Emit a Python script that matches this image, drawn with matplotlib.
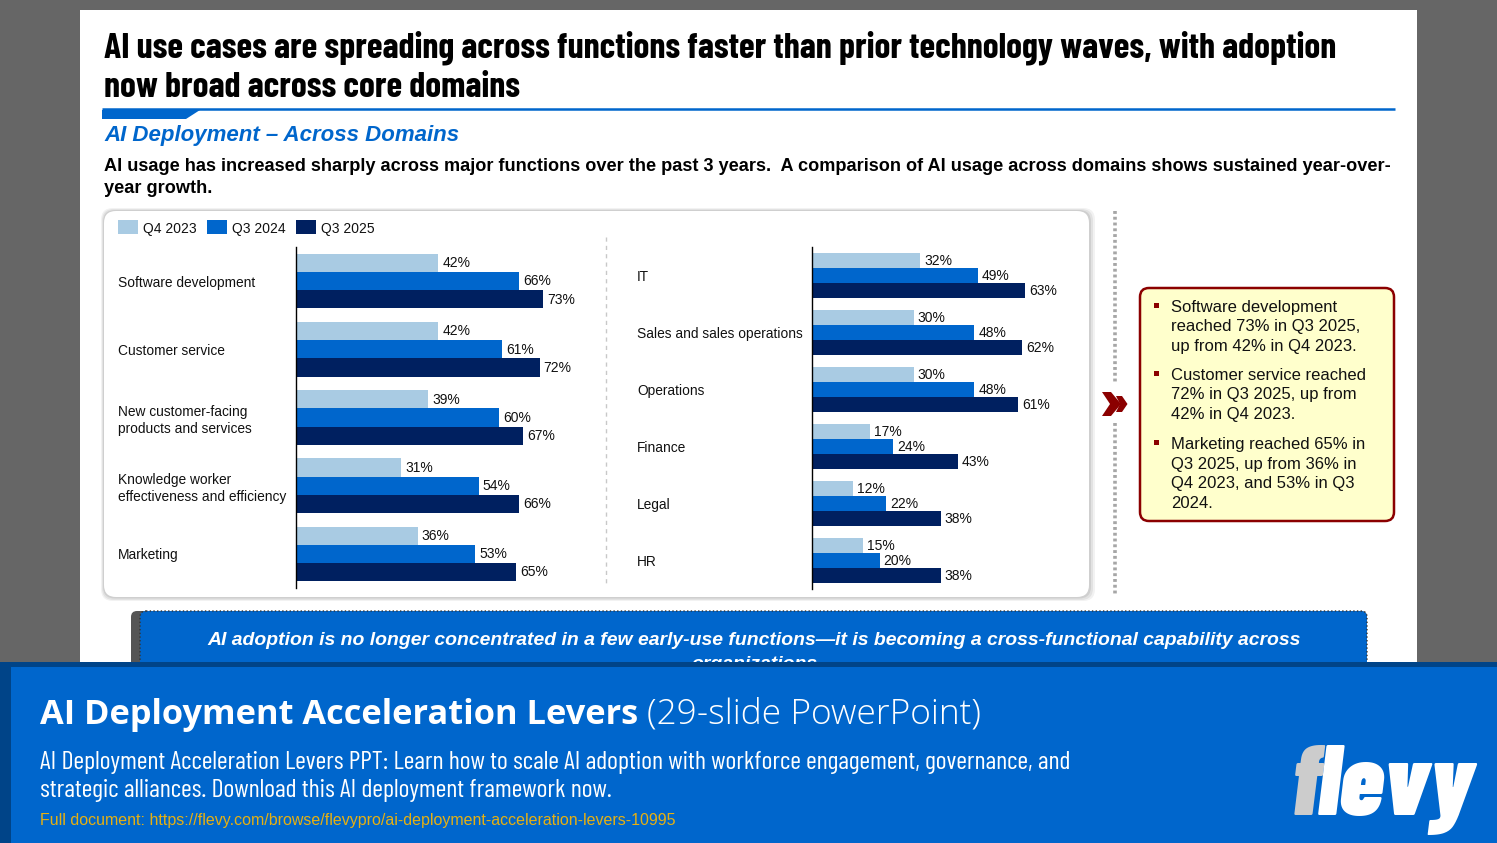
import matplotlib
matplotlib.use('Agg')
import matplotlib.pyplot as plt
from matplotlib.patches import FancyBboxPatch, Rectangle, Polygon

W, H = 1497, 843

SANS = ['Liberation Sans', 'DejaVu Sans']
NARROW = ['Barlow Condensed', 'Liberation Sans', 'DejaVu Sans']
plt.rcParams['font.family'] = SANS

# chart data
SERIES = ['Q4 2023', 'Q3 2024', 'Q3 2025']
COLORS = ['#A9CBE3', '#0066CC', '#002060']

LEFT_CATS = ['Software development', 'Customer service',
             'New customer-facing\nproducts and services',
             'Knowledge worker\neffectiveness and efficiency', 'Marketing']
LEFT_Q4_23 = [42, 42, 39, 31, 36]
LEFT_Q3_24 = [66, 61, 60, 54, 53]
LEFT_Q3_25 = [73, 72, 67, 66, 65]

RIGHT_CATS = ['IT', 'Sales and sales operations', 'Operations', 'Finance', 'Legal', 'HR']
RIGHT_Q4_23 = [32, 30, 30, 17, 12, 15]
RIGHT_Q3_24 = [49, 48, 48, 24, 22, 20]
RIGHT_Q3_25 = [63, 62, 61, 43, 38, 38]

TITLE = ('AI use cases are spreading across functions faster than prior technology waves, with adoption\n'
         'now broad across core domains')
SUBTITLE = 'AI Deployment \u2013 Across Domains'
INTRO = ('AI usage has increased sharply across major functions over the past 3 years.  '
         'A comparison of AI usage across domains shows sustained year-over-\nyear growth.')
CALLOUTS = ['Software development\nreached 73% in Q3 2025,\nup from 42% in Q4 2023.',
            'Customer service reached\n72% in Q3 2025, up from\n42% in Q4 2023.',
            'Marketing reached 65% in\nQ3 2025, up from 36% in\nQ4 2023, and 53% in Q3\n2024.']
BANNER = ('AI adoption is no longer concentrated in a few early-use functions\u2014it is becoming '
          'a cross-functional capability across\norganizations')

fig = plt.figure(figsize=(W / 100, H / 100), dpi=100, facecolor='#666666')

# page layer in pixel coordinates
bg = fig.add_axes([0, 0, 1, 1])
bg.set_xlim(0, W)
bg.set_ylim(H, 0)
bg.axis('off')

bg.add_patch(Rectangle((80, 10), 1337, 660, fc='white', ec='none'))
bg.text(104, 67, TITLE, fontfamily=NARROW, fontweight='bold', fontsize=25.8, linespacing=1.29,
        va='center', color='black')
bg.plot([102, 1395], [109, 109], color='#0066CC', lw=1.8, solid_capstyle='butt')
bg.add_patch(Polygon([(102, 110), (200, 110), (186, 119), (102, 119)], fc='#0066CC', ec='none'))
bg.text(104, 135.5, SUBTITLE, fontweight='bold', fontstyle='italic', fontsize=16, color='#0066CC', va='center')
bg.text(104, 177.5, INTRO, fontweight='bold', fontsize=13.02, linespacing=1.39, va='center', color='black')

# chart card with soft edge
for x0, y0, x1, y1, col in [(101, 208, 1095, 601, '#F2F2F2'), (102, 209, 1093, 600, '#E2E2E2'),
                            (103, 210, 1091, 598.5, '#CFCFCF'), (104, 211, 1089, 597, 'white')]:
    bg.add_patch(FancyBboxPatch((x0, y0), x1 - x0, y1 - y0, boxstyle='round,pad=0,rounding_size=12',
                                fc=col, ec='none'))
bg.plot([606, 606], [237, 583], color='#C8C8C8', lw=1, ls=(0, (3, 3)))

for i, (name, col) in enumerate(zip(SERIES, COLORS)):
    x0 = 118 + i * 89
    bg.add_patch(Rectangle((x0, 220), 20, 14, fc=col, ec='none'))
    bg.text(x0 + 25, 228, name, fontsize=10, va='center_baseline', color='#111111')


def draw_bars(rect, cats, rows, bar_h):
    left, top, width, height = rect
    ax = fig.add_axes([left / W, 1 - (top + height) / H, width / W, height / H])
    ax.patch.set_alpha(0)
    ax.set_xlim(0, width / 3.384)
    ax.set_ylim(len(cats) - 0.5, -0.5)
    for i, (vals, col) in enumerate(zip(rows, COLORS)):
        pos = [k + (i - 1) * bar_h for k in range(len(cats))]
        ax.barh(pos, vals, height=bar_h, color=col)
        for p, v in zip(pos, vals):
            ax.annotate(f'{v}%', (v, p), xytext=(2.9, 0.8), textcoords='offset points',
                        va='center_baseline', ha='left', fontsize=10, color='#111111')
    ax.set_yticks(range(len(cats)))
    ax.set_yticklabels(cats, fontsize=9.9, color='#111111', ha='left', va='center_baseline', linespacing=1.23)
    ax.set_xticks([])
    ax.tick_params(axis='y', length=0)
    for s in ['top', 'right', 'bottom']:
        ax.spines[s].set_visible(False)
    ax.spines['left'].set_linewidth(1.0)
    return ax


ax_l = draw_bars((296, 247, 300, 341), LEFT_CATS, [LEFT_Q4_23, LEFT_Q3_24, LEFT_Q3_25], 0.267)
ax_l.tick_params(axis='y', pad=128)
ax_r = draw_bars((812, 247, 270, 342), RIGHT_CATS, [RIGHT_Q4_23, RIGHT_Q3_24, RIGHT_Q3_25], 0.263)
ax_r.tick_params(axis='y', pad=126)

# divider and chevrons
bg.plot([1114.5, 1114.5], [211, 382], color='#A6A6A6', lw=2.6, ls=(0, (0.8, 0.8)))
bg.plot([1114.5, 1114.5], [423, 595], color='#A6A6A6', lw=2.6, ls=(0, (0.8, 0.8)))
bg.add_patch(Polygon([(1116, 396), (1122, 396), (1127.5, 404), (1122, 412), (1116, 412), (1120, 404)],
                     fc='#8B0000', ec='none'))
bg.add_patch(Polygon([(1102, 392), (1111, 392), (1121, 404), (1111, 416), (1102, 416), (1110, 404)],
                     fc='#8B0000', ec='none'))

# callout box
bg.add_patch(FancyBboxPatch((1140, 288), 254, 233, boxstyle='round,pad=0,rounding_size=9',
                            fc='#FFFFCC', ec='#8B0000', lw=1.8))
for txt, yc, by in zip(CALLOUTS, [327, 395, 474], [306, 374, 443]):
    bg.text(1171, yc, txt, fontsize=12, va='center', linespacing=1.41, color='#111111')
    bg.add_patch(Rectangle((1154, by - 3), 5, 5, fc='#8B0000', ec='none'))

# banner, cut off by the footer
bg.add_patch(FancyBboxPatch((131, 611), 1236, 70, boxstyle='round,pad=0,rounding_size=6',
                            fc='#555555', ec='none'))
bg.add_patch(FancyBboxPatch((140, 611), 1227, 70, boxstyle='round,pad=0,rounding_size=6',
                            fc='#0066CC', ec='#333333', lw=1, ls=':'))
bg.text(754, 652.5, BANNER, fontweight='bold', fontstyle='italic', fontsize=13.95, color='white',
        ha='center', va='center', linespacing=1.5)

# footer
bg.add_patch(Rectangle((0, 662), W, H - 662, fc='#004488', ec='none', zorder=5))
bg.add_patch(Rectangle((11, 667), W - 11, H - 667, fc='#0066CC', ec='none', zorder=5))
bg.text(40, 715, 'AI Deployment Acceleration Levers', fontfamily=['Open Sans', 'DejaVu Sans'],
        fontweight='bold', fontsize=24.75, color='white', va='center', zorder=6)
bg.text(647, 714, '(29-slide PowerPoint)', fontfamily=['Open Sans', 'DejaVu Sans'], fontweight='light',
        fontsize=25.5, color='white', va='center', zorder=6)
bg.text(40, 776.5, 'AI Deployment Acceleration Levers PPT: Learn how to scale AI adoption with workforce '
        'engagement, governance, and\nstrategic alliances. Download this AI deployment framework now.',
        fontfamily=NARROW, fontsize=18.7, color='white', va='center', linespacing=1.25, zorder=6)
bg.text(40, 820, 'Full document: https://flevy.com/browse/flevypro/ai-deployment-acceleration-levers-10995',
        fontsize=11.5, color='#E6B012', va='center', zorder=6)

# logo
bg.text(1291, 815, 'f', fontfamily=NARROW, fontweight='black', fontstyle='italic', fontsize=72,
        color='#CCCCCC', va='baseline', zorder=6)
bg.text(1318, 815, 'levy', fontfamily=NARROW, fontweight='black', fontstyle='italic', fontsize=72,
        color='white', va='baseline', zorder=6)

fig.savefig('out.png', dpi=100, facecolor=fig.get_facecolor())
